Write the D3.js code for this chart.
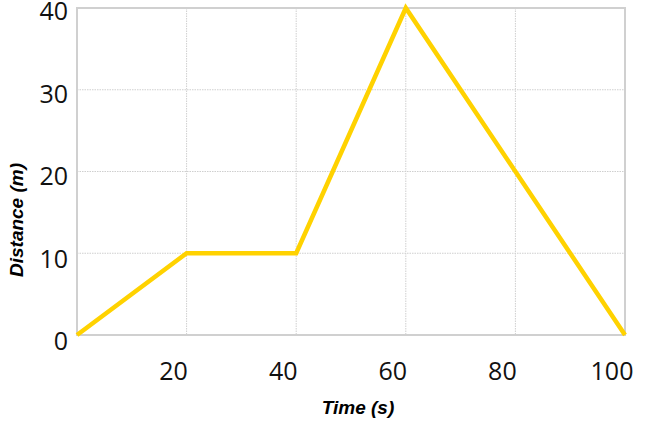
<!DOCTYPE html>
<html>
<head>
<meta charset="utf-8">
<script src="https://cdn.jsdelivr.net/npm/d3@7"></script>
<style>
  body { margin: 0; background: #fff; }
  .tick-label { font-family: "Open Sans", sans-serif; font-size: 25px; fill: #111; }
  .axis-title { font-family: "Liberation Sans", Arial, sans-serif; font-size: 19px; font-weight: bold; font-style: italic; fill: #000; }
</style>
</head>
<body>
<div id="chart"></div>
<script>
const times = [0, 20, 40, 60, 80, 100];
const distances = [0, 10, 10, 40, 20, 0];
const xTicks = [20, 40, 60, 80, 100];
const yTicks = [0, 10, 20, 30, 40];

const width = 650;
const height = 435;
const margin = { top: 8, right: 25, bottom: 100, left: 77 };

const svg = d3.select('#chart')
  .append('svg')
  .attr('width', width)
  .attr('height', height);

const x = d3.scaleLinear()
  .domain([0, 100])
  .range([margin.left, width - margin.right]);

const y = d3.scaleLinear()
  .domain([0, 40])
  .range([height - margin.bottom, margin.top]);

// grid lines (dotted)
svg.append('g')
  .selectAll('line')
  .data(xTicks.filter(d => d < 100))
  .enter()
  .append('line')
  .attr('x1', d => x(d))
  .attr('x2', d => x(d))
  .attr('y1', y(40))
  .attr('y2', y(0))
  .attr('stroke', '#cfcfcf')
  .attr('stroke-dasharray', '1.5,1');

svg.append('g')
  .selectAll('line')
  .data(yTicks.filter(d => d > 0 && d < 40))
  .enter()
  .append('line')
  .attr('x1', x(0))
  .attr('x2', x(100))
  .attr('y1', d => y(d))
  .attr('y2', d => y(d))
  .attr('stroke', '#cfcfcf')
  .attr('stroke-dasharray', '1.5,1');

// plot frame
svg.append('rect')
  .attr('x', x(0))
  .attr('y', y(40))
  .attr('width', x(100) - x(0))
  .attr('height', y(0) - y(40))
  .attr('fill', 'none')
  .attr('stroke', '#d0d0d0')
  .attr('stroke-width', 2);

// tick labels
svg.append('g')
  .selectAll('text')
  .data(xTicks)
  .enter()
  .append('text')
  .attr('class', 'tick-label')
  .attr('x', d => x(d) - 13)
  .attr('y', y(0) + 45)
  .attr('text-anchor', 'middle')
  .text(d => d);

svg.append('g')
  .selectAll('text')
  .data(yTicks)
  .enter()
  .append('text')
  .attr('class', 'tick-label')
  .attr('x', x(0) - 9)
  .attr('y', d => y(d) + 12 + (40 - d) / 12)
  .attr('text-anchor', 'end')
  .text(d => d);

// axis titles
svg.append('text')
  .attr('class', 'axis-title')
  .attr('x', 358)
  .attr('y', 414)
  .attr('text-anchor', 'middle')
  .text('Time (s)');

svg.append('text')
  .attr('class', 'axis-title')
  .attr('text-anchor', 'middle')
  .attr('transform', 'translate(23, 220) rotate(-90)')
  .text('Distance (m)');

// the line
const line = d3.line()
  .x((d, i) => x(times[i]))
  .y(d => y(d));

svg.append('path')
  .datum(distances)
  .attr('fill', 'none')
  .attr('stroke', '#FFD200')
  .attr('stroke-width', 4.5)
  .attr('stroke-linejoin', 'miter')
  .attr('d', line);
</script>
</body>
</html>
